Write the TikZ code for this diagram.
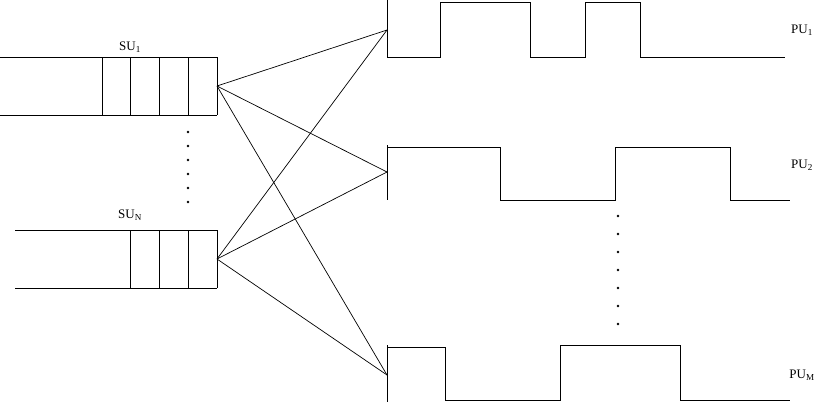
\documentclass[tikz,border=0pt]{standalone}
\usepackage{fontspec}
\setmainfont{Liberation Serif}
\begin{document}
\begin{tikzpicture}[x=1pt,y=-1pt,line width=0.9pt,
  lbl/.style={font=\fontsize{13}{13}\selectfont,inner sep=0pt},
  dot/.style={circle,fill,inner sep=0pt,minimum size=2.6pt}]
\useasboundingbox (0,0) rectangle (820,405);
% SU1 queue
\draw (0,57) -- (217,57) (0,115) -- (217,115);
\foreach \x in {102,130,159,188,217} \draw (\x,57) -- (\x,115);
\node[lbl] (su1) at (130,47) {SU\textsubscript{1}};
\coordinate (s1) at (217,86);
% SUN queue
\draw (15,230) -- (217,230) (15,288) -- (217,288);
\foreach \x in {130,159,188,217} \draw (\x,230) -- (\x,288);
\node[lbl] (sun) at (130,215) {SU\textsubscript{N}};
\coordinate (sn) at (217,259);
\foreach \y in {132,146,160,174,188,202} \node[dot] at (188,\y) {};
% PU waveforms
\draw (387,0) -- (387,57) -- (440,57) -- (440,2) -- (530,2) -- (530,57) -- (585,57) -- (585,2) -- (640,2) -- (640,57) -- (785,57);
\draw (387,145) -- (387,200) (387,147) -- (500,147) -- (500,200) -- (615,200) -- (615,147) -- (730,147) -- (730,200) -- (790,200);
\draw (387,345) -- (387,402) (387,347) -- (445,347) -- (445,400) -- (560,400) -- (560,345) -- (680,345) -- (680,400) -- (790,400);
\coordinate (p1) at (387,30);
\coordinate (p2) at (387,172);
\coordinate (pm) at (387,375);
\node[lbl] (pu1) at (802,30) {PU\textsubscript{1}};
\node[lbl] (pu2) at (802,165) {PU\textsubscript{2}};
\node[lbl] (pum) at (802,375) {PU\textsubscript{M}};
\foreach \y in {216,234,252,270,288,306,324} \node[dot] at (618,\y) {};
% connections
\foreach \a in {s1,sn} \foreach \b in {p1,p2,pm} \draw[line width=0.7pt] (\a) -- (\b);
\end{tikzpicture}
\end{document}
